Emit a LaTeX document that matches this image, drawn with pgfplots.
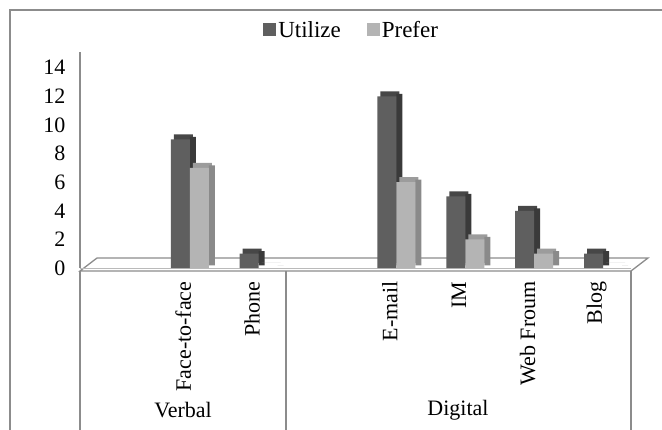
\documentclass[border=0pt]{standalone}
\usepackage{fontspec}
\setmainfont{Liberation Serif}
\usepackage{pgfplots}
\usepackage{pgfplotstable}
\pgfplotsset{compat=1.18}
\definecolor{util}{HTML}{5F5F5F}
\definecolor{utilside}{HTML}{3A3A3A}
\definecolor{utiltop}{HTML}{474747}
\definecolor{pref}{HTML}{B4B4B4}
\definecolor{prefside}{HTML}{8A8A8A}
\definecolor{preftop}{HTML}{9C9C9C}
\definecolor{frame}{HTML}{8C8C8C}

\pgfplotstableread{
x util pref
1 9 7
2 1 0
4 12 6
5 5 2
6 4 1
7 1 0
}\data

\begin{document}
\begin{tikzpicture}
\useasboundingbox (0,0) rectangle (662bp,430bp);
% outer frame (top and left edges visible)
\draw[frame, line width=1.5bp] (10bp,0bp) -- (10bp,420bp) -- (662bp,420bp);
% category group separators
\draw[frame, line width=1.5bp] (80bp,159bp) -- (80bp,0bp);
\draw[frame, line width=1.5bp] (286bp,159bp) -- (286bp,0bp);
\draw[frame, line width=1.5bp] (631bp,159bp) -- (631bp,0bp);
% floor
\draw[frame, line width=1.3bp, fill=white] (80bp,159bp) -- (97bp,172bp) -- (648bp,172bp) -- (631bp,159bp) -- cycle;
\draw[frame!60, line width=0.8bp] (80bp,162bp) -- (631bp,162bp);
% group labels
\node[font=\fontsize{22bp}{26bp}\selectfont] at (183bp,20bp) {Verbal};
\node[font=\fontsize{22bp}{26bp}\selectfont] at (458bp,20bp) {Digital};
\begin{axis}[
  at={(80bp,162bp)}, anchor=south west,
  width=551bp, height=216bp, scale only axis,
  xmin=-0.5, xmax=7.5, ymin=0, ymax=15.1,
  axis lines*=left,
  x axis line style={draw=none},
  y axis line style={draw=frame, line width=1.3bp},
  major tick length=0pt,
  xtick={1,2,4,5,6,7},
  xticklabels={Face-to-face,Phone,E-mail,IM,Web Froum,Blog},
  xticklabel style={rotate=90, anchor=east, font=\fontsize{22bp}{26bp}\selectfont},
  xticklabel shift=10bp,
  ytick={0,2,...,14},
  yticklabel style={font=\fontsize{22bp}{26bp}\selectfont, xshift=-11bp},
  /pgf/number format/assume math mode=true,
  clip=false,
  legend columns=2,
  legend style={draw=none, fill=none, at={(0.493,1.102)}, anchor=center,
    font=\fontsize{23bp}{27bp}\selectfont,
    /tikz/every even column/.append style={column sep=24bp},
    inner sep=0pt},
]
% Utilize: top, side, front
\addplot[ybar, bar width=19bp, bar shift=0bp, fill=utiltop, draw=none, yshift=5bp, forget plot]
  table[x=x, y=util]{\data};
\addplot[ybar, bar width=6bp, bar shift=9.5bp, fill=utilside, draw=none, yshift=2.5bp, forget plot]
  table[x=x, y=util]{\data};
\addplot[ybar, bar width=19bp, bar shift=-3bp, fill=util, draw=none,
  legend image code/.code={\fill[util] (0bp,-6.5bp) rectangle (13bp,6.5bp);}]
  table[x=x, y=util]{\data};
\addlegendentry{Utilize}
% Prefer: top, side, front
\addplot[ybar, bar width=19bp, bar shift=19bp, fill=preftop, draw=none, yshift=5bp, forget plot]
  table[x=x, y=pref]{\data};
\addplot[ybar, bar width=6bp, bar shift=28.5bp, fill=prefside, draw=none, yshift=2.5bp, forget plot]
  table[x=x, y=pref]{\data};
\addplot[ybar, bar width=19bp, bar shift=16bp, fill=pref, draw=none,
  legend image code/.code={\fill[pref] (0bp,-6.5bp) rectangle (13bp,6.5bp);}]
  table[x=x, y=pref]{\data};
\addlegendentry{Prefer}
\end{axis}
\end{tikzpicture}
\end{document}
